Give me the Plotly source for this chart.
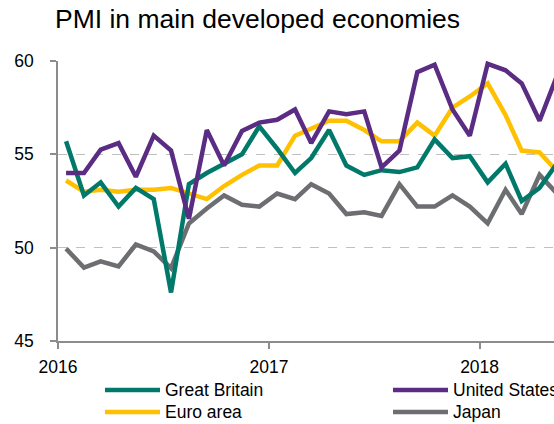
import plotly.graph_objects as go
import pandas as pd

# ---- data (monthly, Jan 2016 - May 2018) ----
months = [d.strftime("%Y-%m-%d") for d in pd.date_range("2016-01-01", periods=29, freq="MS") + pd.Timedelta(days=14)]

great_britain = [55.7, 52.8, 53.5, 52.2, 53.2, 52.6, 47.6, 53.4, 54.0, 54.5, 55.0, 56.5,
                 55.3, 54.0, 54.8, 56.3, 54.4, 53.9, 54.15, 54.05, 54.3, 55.8, 54.8, 54.9,
                 53.5, 54.5, 52.5, 53.2, 54.5]
united_states = [54.0, 54.0, 55.25, 55.6, 53.8, 56.0, 55.2, 51.55, 56.3, 54.4, 56.25, 56.7,
                 56.85, 57.4, 55.6, 57.3, 57.15, 57.3, 54.3, 55.2, 59.4, 59.8, 57.4, 56.0,
                 59.85, 59.5, 58.8, 56.8, 59.2]
euro_area = [53.6, 53.0, 53.1, 53.0, 53.1, 53.1, 53.2, 52.9, 52.6, 53.3, 53.9, 54.4,
             54.4, 56.0, 56.4, 56.8, 56.8, 56.3, 55.7, 55.7, 56.7, 56.0, 57.5, 58.1,
             58.8, 57.1, 55.2, 55.1, 54.1]
japan = [49.95, 48.93, 49.27, 49.0, 50.17, 49.8, 48.9, 51.3, 52.1, 52.8, 52.3, 52.2,
         52.9, 52.6, 53.4, 52.9, 51.8, 51.9, 51.7, 53.4, 52.2, 52.2, 52.8, 52.2,
         51.3, 53.1, 51.8, 53.9, 52.9]

series_names = ["Great Britain", "United States", "Euro area", "Japan"]
series_colors = ["#00796B", "#5B2C83", "#FFC000", "#6D6E71"]
series_values = [great_britain, united_states, euro_area, japan]

y_ticks = [45, 50, 55, 60]
x_ticks = ["2016-01-01", "2017-01-01", "2018-01-01"]
x_tick_labels = ["2016", "2017", "2018"]

W, H = 554, 424
L, T, B = 58, 61, 83
plot_w = W - L
plot_h = H - T - B

fig = go.Figure()
for k in [3, 2, 0, 1]:
    fig.add_trace(go.Scatter(x=months, y=series_values[k], mode="lines",
                             name=series_names[k], showlegend=False,
                             line=dict(color=series_colors[k], width=4.5),
                             cliponaxis=True))

tick_font = dict(family="Liberation Sans, Arial", size=17.5, color="#000000")

fig.update_layout(
    width=W, height=H,
    margin=dict(l=L, r=0, t=T, b=B, pad=0),
    paper_bgcolor="white", plot_bgcolor="white",
    showlegend=False,
    xaxis=dict(type="date", range=["2016-01-01", "2018-05-10"],
               tickvals=x_ticks, ticktext=x_tick_labels,
               showgrid=False, zeroline=False,
               showline=True, linecolor="#8C8C8C", linewidth=1.5,
               ticks="outside", ticklen=6, tickcolor="#8C8C8C", tickwidth=1.5,
               tickfont=tick_font, ticklabelstandoff=3),
    yaxis=dict(range=[45, 60], tickvals=y_ticks,
               showgrid=True, gridcolor="#C0C0C0", griddash="dash", gridwidth=1,
               zeroline=False,
               showline=True, linecolor="#8C8C8C", linewidth=1.5,
               ticks="outside", ticklen=6, tickcolor="#8C8C8C", tickwidth=1.5,
               tickfont=tick_font, ticklabelstandoff=13),
)

# title
fig.add_annotation(text="PMI in main developed economies", xref="paper", yref="paper",
                   x=(53 - L) / plot_w, y=(H - B - 19) / plot_h, xanchor="left", yanchor="middle",
                   showarrow=False, font=dict(family="Liberation Sans, Arial", size=26.5, color="#000000"))

# manual legend
legend_pos = [(105, 390), (393, 390), (105, 412), (393, 412)]
leg_font = dict(family="Liberation Sans, Arial", size=17.5, color="#000000")
px = lambda v: (v - L) / plot_w
py = lambda v: (H - B - v) / plot_h
for k, (lx, ly) in zip([0, 1, 2, 3], legend_pos):
    fig.add_shape(type="line", xref="paper", yref="paper",
                  x0=px(lx), x1=px(lx + 55), y0=py(ly), y1=py(ly),
                  line=dict(color=series_colors[k], width=4.5))
    fig.add_annotation(text=series_names[k], xref="paper", yref="paper",
                       x=px(lx + 58), y=py(ly), xanchor="left", yanchor="middle",
                       showarrow=False, font=leg_font)

fig.write_html("out.html")
